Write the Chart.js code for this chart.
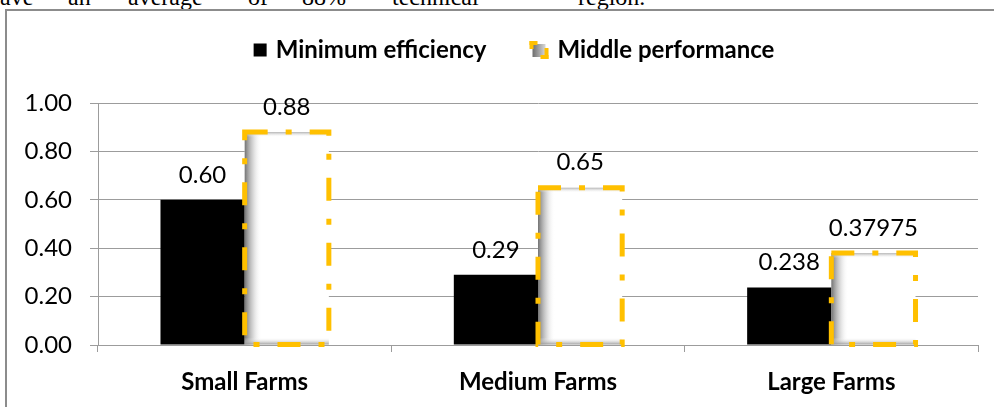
<!DOCTYPE html>
<html>
<head>
<meta charset="utf-8">
<script src="https://cdn.jsdelivr.net/npm/chart.js@4.4.1/dist/chart.umd.min.js"></script>
<style>
  html, body { margin: 0; padding: 0; background: #fff; overflow: hidden; }
  #page { position: relative; width: 994px; height: 407px; overflow: hidden; background: #fff; }
  .w { position: absolute; top: -15px; font: 24px "Liberation Serif", serif; line-height: 24px; color: #000; white-space: nowrap; }
  #frame { position: absolute; left: 5px; top: 9px; width: 1200px; height: 600px;
           border-left: 2px solid #8c8c8c; border-top: 2px solid #8c8c8c; }
  #wrap { position: absolute; left: 0; top: 0; width: 994px; height: 407px; }
</style>
</head>
<body>
<div id="page">
  <span class="w" style="left:0px">ave</span>
  <span class="w" style="left:68px">an</span>
  <span class="w" style="left:128px">average</span>
  <span class="w" style="left:248px">of</span>
  <span class="w" style="left:302px">88%</span>
  <span class="w" style="left:392px">technical</span>
  <span class="w" style="left:578px">region.</span>
  <div id="frame"></div>
  <div id="wrap"><canvas id="c" width="994" height="407"></canvas></div>
</div>
<script>
// Farm size groups
const categories = ["Small Farms", "Medium Farms", "Large Farms"];

// Series
const minLabel = "Minimum efficiency";
const minValues = [0.60, 0.29, 0.238];
const minDecimals = [2, 2, 3];

const midLabel = "Middle performance";
const midValues = [0.88, 0.65, 0.37975];
const midDecimals = [2, 2, 5];

// Value axis
const yMin = 0;
const yMax = 1;
const yStep = 0.2;

const FONT = "Lato, 'Open Sans', sans-serif";
const GRID = "#9c9c9c";
const GOLD = "#FFC000";

// Draws the dashed gold outline and inner shading of the second series,
// then the value labels above every bar.
const barDecor = {
  id: "barDecor",
  afterDatasetsDraw(chart) {
    const ctx = chart.ctx;
    const meta = chart.getDatasetMeta(1);
    meta.data.forEach(bar => {
      const p = bar.getProps(["x", "y", "base", "width"], true);
      const l = p.x - p.width / 2, r = p.x + p.width / 2, t = p.y, b = p.base;
      ctx.save();
      let g = ctx.createLinearGradient(l, 0, l + 17, 0);
      g.addColorStop(0, "rgba(115,115,115,1)");
      g.addColorStop(0.5, "rgba(190,190,190,0.6)");
      g.addColorStop(1, "rgba(255,255,255,0)");
      ctx.fillStyle = g;
      ctx.fillRect(l, t, 17, b - t);
      g = ctx.createLinearGradient(0, t, 0, t + 5);
      g.addColorStop(0, "rgba(170,170,170,0.9)");
      g.addColorStop(1, "rgba(255,255,255,0)");
      ctx.fillStyle = g;
      ctx.fillRect(l, t, r - l, 5);
      g = ctx.createLinearGradient(0, b, 0, b - 7);
      g.addColorStop(0, "rgba(150,150,150,0.9)");
      g.addColorStop(1, "rgba(255,255,255,0)");
      ctx.fillStyle = g;
      ctx.fillRect(l, b - 7, r - l, 7);
      ctx.strokeStyle = GOLD;
      ctx.lineWidth = 5;
      ctx.lineCap = "butt";
      ctx.setLineDash([23, 18, 6, 18]);
      ctx.beginPath();
      ctx.rect(l, t, r - l, b - t);
      ctx.stroke();
      ctx.restore();
    });

    ctx.save();
    ctx.font = "24px " + FONT;
    ctx.fillStyle = "#000";
    ctx.textAlign = "center";
    ctx.textBaseline = "middle";
    chart.data.datasets.forEach((ds, di) => {
      chart.getDatasetMeta(di).data.forEach((bar, i) => {
        const p = bar.getProps(["x", "y"], true);
        ctx.fillText(ds.data[i].toFixed(ds.decimals[i]), p.x, p.y - 25);
      });
    });
    ctx.restore();
  }
};

// Legend across the top
const topLegend = {
  id: "topLegend",
  afterDraw(chart) {
    const ctx = chart.ctx;
    const ds = chart.data.datasets;
    ctx.save();
    ctx.font = "bold 24px " + FONT;
    ctx.textBaseline = "middle";
    ctx.fillStyle = "#000";
    const w1 = ctx.measureText(ds[0].label).width;
    const w2 = ctx.measureText(ds[1].label).width;
    const total = 13 + 9 + w1 + 43 + 19 + 9 + w2;
    let x = 514 - total / 2;
    const cy = 50;
    ctx.fillStyle = "#000";
    ctx.fillRect(x, cy - 6.5, 13, 13);
    x += 13 + 9;
    ctx.fillText(ds[0].label, x, cy);
    x += w1 + 43;
    // second legend key
    const g = ctx.createLinearGradient(x + 3, 0, x + 16, 0);
    g.addColorStop(0, "#6e6e6e");
    g.addColorStop(1, "#d8d8d8");
    ctx.fillStyle = g;
    ctx.fillRect(x + 3, cy - 6, 13, 13);
    ctx.fillStyle = GOLD;
    ctx.fillRect(x, cy - 9, 8, 4);
    ctx.fillRect(x, cy - 9, 4, 8);
    ctx.fillRect(x + 11, cy + 5, 8, 4);
    ctx.fillRect(x + 15, cy - 2, 4, 11);
    x += 19 + 9;
    ctx.fillStyle = "#000";
    ctx.fillText(ds[1].label, x, cy);
    ctx.restore();
  }
};

new Chart(document.getElementById("c"), {
  type: "bar",
  data: {
    labels: categories,
    datasets: [
      { label: minLabel, data: minValues, decimals: minDecimals,
        backgroundColor: "#000", borderWidth: 0 },
      { label: midLabel, data: midValues, decimals: midDecimals,
        backgroundColor: "#fff", borderWidth: 0 }
    ]
  },
  options: {
    responsive: false,
    animation: false,
    events: [],
    layout: { padding: { top: 103, right: 16, left: 0, bottom: 0 } },
    datasets: { bar: { categoryPercentage: 0.574, barPercentage: 1 } },
    plugins: { legend: { display: false }, tooltip: { enabled: false } },
    scales: {
      x: {
        afterFit: s => { s.height = 62; },
        grid: { display: true, drawOnChartArea: false, drawTicks: true, tickLength: 7,
                color: GRID, offset: true },
        border: { display: true, color: GRID, width: 1 },
        ticks: { font: { family: FONT, size: 24, weight: "bold" }, color: "#000", padding: 16 }
      },
      y: {
        min: yMin, max: yMax,
        afterFit: s => { s.width = 98; },
        grid: { color: GRID, tickLength: 8, drawTicks: true },
        border: { display: true, color: GRID, width: 1 },
        ticks: { stepSize: yStep, font: { family: FONT, size: 24 }, color: "#000", padding: 18,
                 callback: v => Number(v).toFixed(2) }
      }
    }
  },
  plugins: [barDecor, topLegend]
});
</script>
</body>
</html>
